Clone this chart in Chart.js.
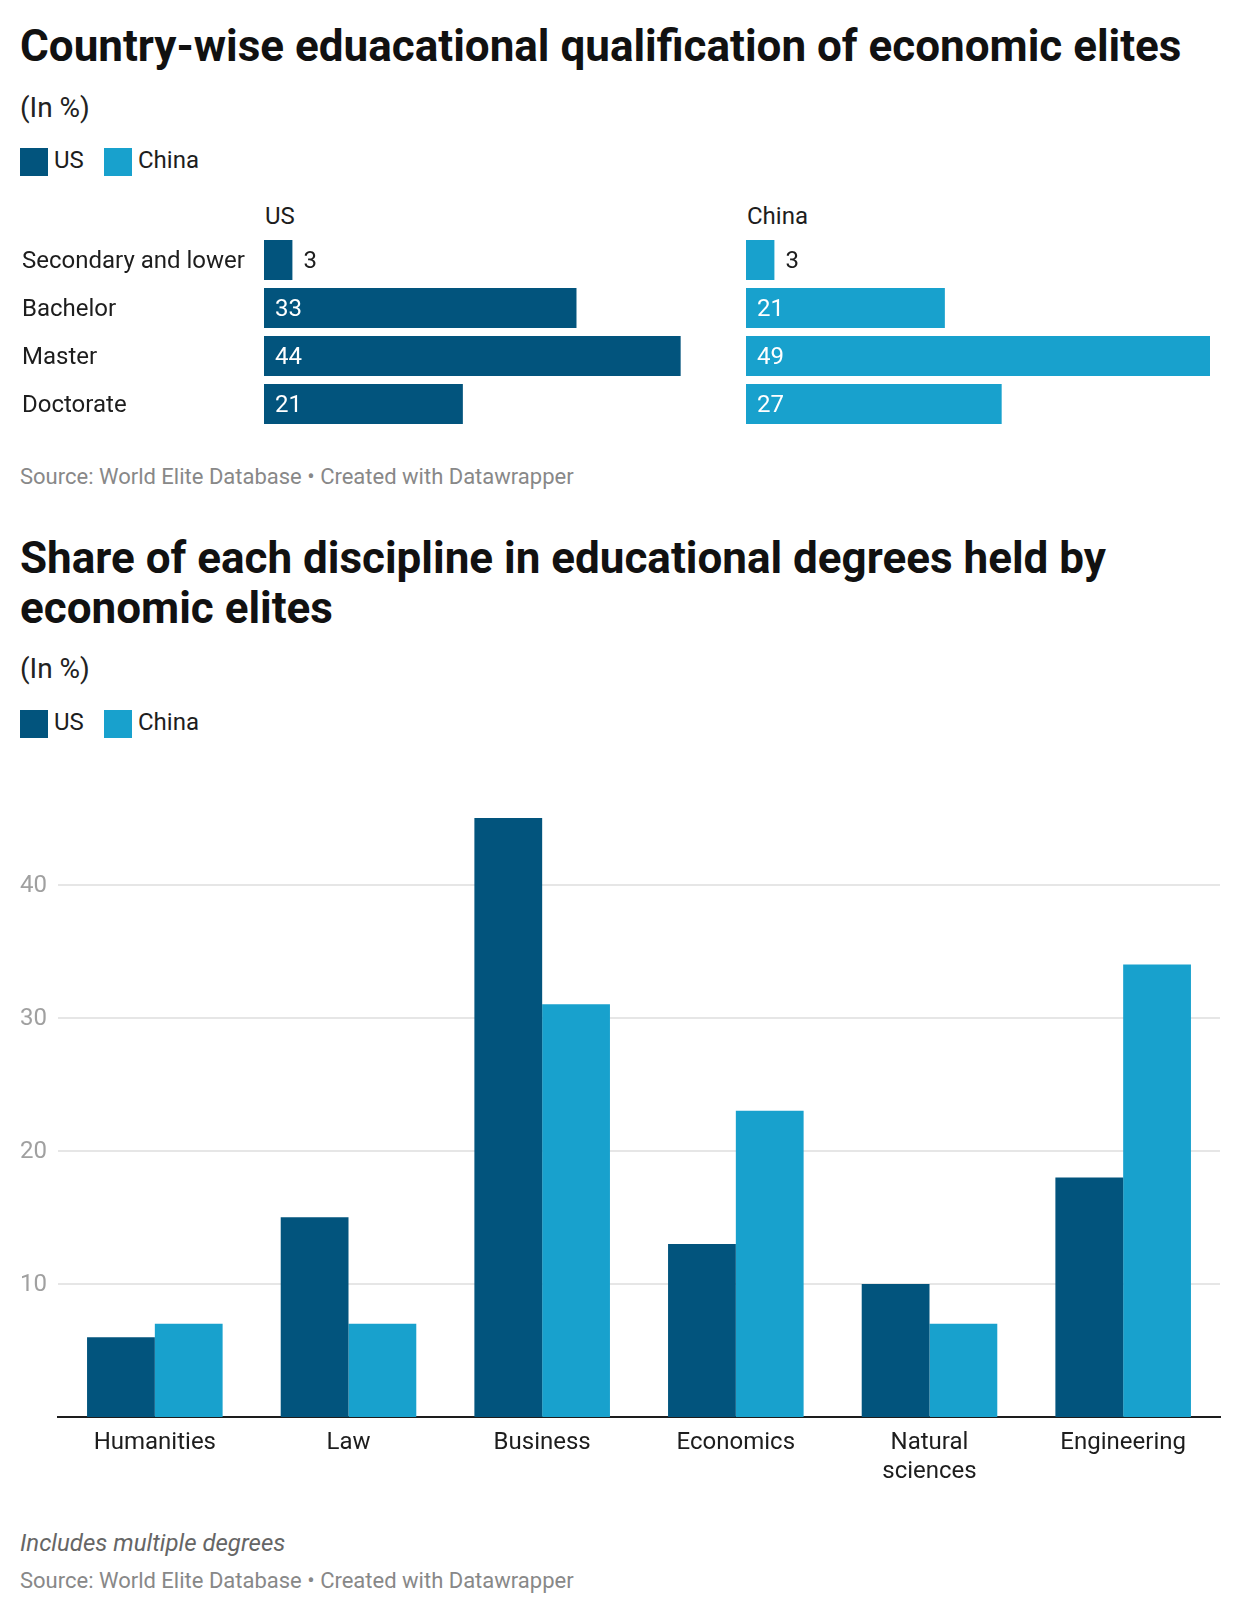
<!DOCTYPE html>
<html>
<head>
<meta charset="utf-8">
<script src="https://cdn.jsdelivr.net/npm/chart.js@4/dist/chart.umd.min.js"></script>
<style>
    body { margin: 0; background: #fff; font-family: Roboto, sans-serif; color: #1d1d1d; }
    #page { position: relative; width: 1240px; height: 1616px; overflow: hidden; }
    .t { position: absolute; left: 20px; white-space: nowrap; line-height: 1; }
    .title { font-size: 44px; font-weight: 700; color: #111; line-height: 50px; }
    .desc { font-size: 28px; color: #222; }
    .lab { font-size: 24px; color: #1d1d1d; }
    .src { font-size: 22px; color: #888; }
    .note { font-size: 24px; color: #666; font-style: italic; }
    .sq { position: absolute; width: 28px; height: 28px; }
    canvas { position: absolute; }
</style>
</head>
<body>
<div id="page">
    <div class="t title" style="top:21px">Country-wise eduacational qualification of economic elites</div>
    <div class="t desc" style="top:94px">(In %)</div>
    <div class="sq" style="left:20px;top:148px;background:#02547d"></div>
    <div class="t lab" style="left:54px;top:148px">US</div>
    <div class="sq" style="left:104px;top:148px;background:#18a1cd"></div>
    <div class="t lab" style="left:138px;top:148px">China</div>

    <div class="t lab" style="left:265px;top:204px">US</div>
    <div class="t lab" style="left:747px;top:204px">China</div>
    <canvas id="usChart" width="740" height="205" style="left:0;top:230px"></canvas>
    <canvas id="cnChart" width="500" height="205" style="left:740px;top:230px"></canvas>

    <div class="t src" style="top:466px">Source: World Elite Database • Created with Datawrapper</div>

    <div class="t title" style="top:533px">Share of each discipline in educational degrees held by<br>economic elites</div>
    <div class="t desc" style="top:655px">(In %)</div>
    <div class="sq" style="left:20px;top:710px;background:#02547d"></div>
    <div class="t lab" style="left:54px;top:710px">US</div>
    <div class="sq" style="left:104px;top:710px;background:#18a1cd"></div>
    <div class="t lab" style="left:138px;top:710px">China</div>

    <canvas id="discChart" width="1240" height="720" style="left:0;top:780px"></canvas>

    <div class="t note" style="top:1531px">Includes multiple degrees</div>
    <div class="t src" style="top:1570px">Source: World Elite Database • Created with Datawrapper</div>
</div>

<script>
// данные
const levels = ["Secondary and lower", "Bachelor", "Master", "Doctorate"];
const usLevels = [3, 33, 44, 21];
const chinaLevels = [3, 21, 49, 27];

const disciplines = ["Humanities", "Law", "Business", "Economics", ["Natural", "sciences"], "Engineering"];
const usDisc = [6, 15, 45, 13, 10, 18];
const chinaDisc = [7, 7, 31, 23, 7, 34];
const yTicks = [10, 20, 30, 40];

const US_COLOR = "#02547d";
const CN_COLOR = "#18a1cd";
const TEXT = "#1d1d1d";

Chart.defaults.font.family = "Roboto, sans-serif";
Chart.defaults.color = TEXT;

// подписи значений на горизонтальных барах
const valueLabels = {
    id: "valueLabels",
    afterDatasetsDraw(chart) {
        const ctx = chart.ctx;
        const meta = chart.getDatasetMeta(0);
        const data = chart.data.datasets[0].data;
        ctx.save();
        ctx.font = "24px Roboto, sans-serif";
        ctx.textBaseline = "middle";
        ctx.textAlign = "left";
        meta.data.forEach((bar, i) => {
            const txt = String(data[i]);
            const w = ctx.measureText(txt).width;
            const barW = bar.x - bar.base;
            if (barW > w + 22) {
                ctx.fillStyle = "#fff";
                ctx.fillText(txt, bar.base + 11, bar.y + 2);
            } else {
                ctx.fillStyle = TEXT;
                ctx.fillText(txt, bar.x + 11, bar.y + 2);
            }
        });
        ctx.restore();
    }
};

function levelChart(id, values, color, showLabels, padding) {
    return new Chart(document.getElementById(id), {
        type: "bar",
        data: {
            labels: levels,
            datasets: [{
                data: values,
                backgroundColor: color,
                barPercentage: 40 / 48,
                categoryPercentage: 1
            }]
        },
        options: {
            indexAxis: "y",
            responsive: false,
            animation: false,
            devicePixelRatio: 1,
            layout: { padding: padding },
            plugins: { legend: { display: false }, tooltip: { enabled: false } },
            scales: {
                x: { display: false, min: 0, max: 49 },
                y: {
                    display: showLabels,
                    grid: { display: false, drawTicks: false },
                    border: { display: false },
                    ticks: {
                        crossAlign: "far",
                        padding: 0,
                        labelOffset: 2,
                        color: TEXT,
                        font: { size: 24 }
                    },
                    afterFit(scale) {
                        scale.width = showLabels ? 242 : 0;
                        scale.paddingTop = 0;
                        scale.paddingBottom = 0;
                    }
                }
            }
        },
        plugins: [valueLabels]
    });
}

levelChart("usChart", usLevels, US_COLOR, true, { left: 22, right: 12, top: 6, bottom: 7 });
levelChart("cnChart", chinaLevels, CN_COLOR, false, { left: 6, right: 30, top: 6, bottom: 7 });

new Chart(document.getElementById("discChart"), {
    type: "bar",
    data: {
        labels: disciplines,
        datasets: [
            { label: "US", data: usDisc, backgroundColor: US_COLOR },
            { label: "China", data: chinaDisc, backgroundColor: CN_COLOR }
        ]
    },
    options: {
        responsive: false,
        animation: false,
        devicePixelRatio: 1,
        layout: { padding: { top: 38, right: 20, left: 0, bottom: 0 } },
        datasets: { bar: { categoryPercentage: 0.7, barPercentage: 1.0 } },
        plugins: { legend: { display: false }, tooltip: { enabled: false } },
        scales: {
            x: {
                grid: { display: false, drawTicks: false },
                border: { display: true, color: TEXT, width: 2 },
                ticks: {
                    padding: 12,
                    color: TEXT,
                    font: { size: 24, lineHeight: 1.2 },
                    maxRotation: 0,
                    autoSkip: false
                },
                afterFit(scale) { scale.height = 83; }
            },
            y: {
                min: 0,
                max: 45,
                grid: { color: "#e6e6e6", lineWidth: 2, drawTicks: false },
                border: { display: false },
                ticks: {
                    padding: 11,
                    labelOffset: 1,
                    color: "#a0a0a0",
                    font: { size: 24 }
                },
                afterBuildTicks(scale) {
                    scale.ticks = yTicks.map(v => ({ value: v }));
                },
                afterFit(scale) { scale.width = 58; }
            }
        }
    }
});
</script>
</body>
</html>
